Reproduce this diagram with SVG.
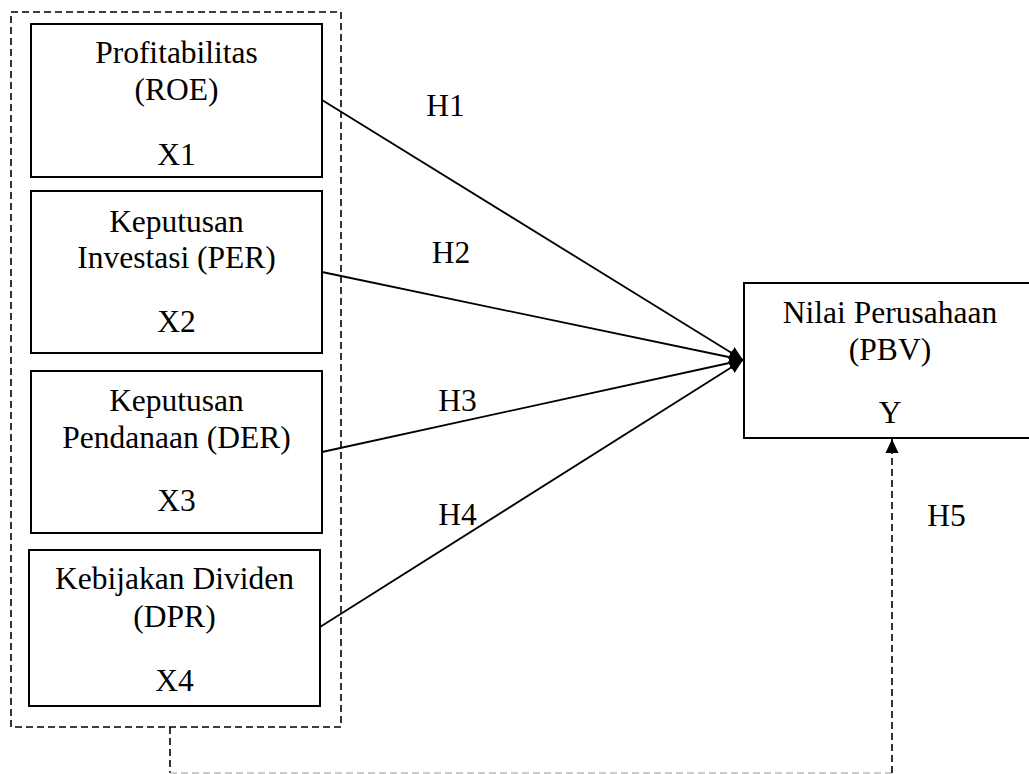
<svg xmlns="http://www.w3.org/2000/svg" width="1029" height="774" viewBox="0 0 1029 774">
<style>
.box{fill:#fff;stroke:#000;stroke-width:2}
.dash{fill:none;stroke:#000;stroke-width:1.6;stroke-dasharray:7,4}
.ln{fill:none;stroke:#000;stroke-width:1.8}
.t{font-family:'Liberation Serif','Times New Roman',Times,serif;font-size:31.5px;fill:#000;text-anchor:middle}
</style>
<defs>
<marker id="ah" viewBox="0 0 14 14" refX="14" refY="7" markerWidth="14" markerHeight="14" markerUnits="userSpaceOnUse" orient="auto">
<path d="M0,0.5 L14,7 L0,13.5 z" fill="#000"/>
</marker>
</defs>
<rect id="group-x" class="dash" x="11" y="12" width="330" height="715"/>
<g id="x1" class="t">
<rect class="box" x="31" y="24" width="291" height="153"/>
<text x="176.5" y="63">Profitabilitas</text>
<text x="176.5" y="100">(ROE)</text>
<text x="176.5" y="165">X1</text>
</g>
<g id="x2" class="t">
<rect class="box" x="31" y="191" width="291" height="162"/>
<text x="176.5" y="232">Keputusan</text>
<text x="176.5" y="268">Investasi (PER)</text>
<text x="176.5" y="332">X2</text>
</g>
<g id="x3" class="t">
<rect class="box" x="31" y="371" width="291" height="162"/>
<text x="176.5" y="411">Keputusan</text>
<text x="176.5" y="448">Pendanaan (DER)</text>
<text x="176.5" y="511">X3</text>
</g>
<g id="x4" class="t">
<rect class="box" x="29" y="550" width="291" height="156"/>
<text x="174.5" y="589">Kebijakan Dividen</text>
<text x="174.5" y="627">(DPR)</text>
<text x="174.5" y="691">X4</text>
</g>
<g id="y" class="t">
<rect class="box" x="744" y="283" width="300" height="155"/>
<text x="890" y="323">Nilai Perusahaan</text>
<text x="890" y="360">(PBV)</text>
<text x="890" y="423">Y</text>
</g>
<g id="connectors">
<line class="ln" x1="322" y1="100" x2="743" y2="360" marker-end="url(#ah)"/>
<line class="ln" x1="322" y1="272" x2="743" y2="360" marker-end="url(#ah)"/>
<line class="ln" x1="322" y1="452" x2="743" y2="360" marker-end="url(#ah)"/>
<line class="ln" x1="320" y1="627" x2="743" y2="360" marker-end="url(#ah)"/>
<line class="dash" x1="170" y1="727" x2="170" y2="773"/>
<line x1="170" y1="773" x2="892" y2="773" fill="none" stroke="#bbb" stroke-width="1.6" stroke-dasharray="7,4"/>
<line class="dash" x1="892" y1="773" x2="892" y2="439" marker-end="url(#ah)"/>
</g>
<g id="labels" class="t">
<text x="445.5" y="116">H1</text>
<text x="451" y="263">H2</text>
<text x="457.5" y="411">H3</text>
<text x="457.5" y="525">H4</text>
<text x="946.5" y="526">H5</text>
</g>
</svg>
